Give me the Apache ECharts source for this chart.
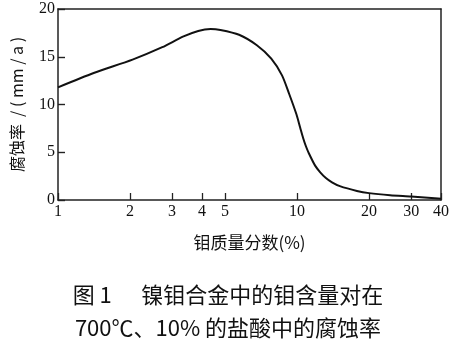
<!DOCTYPE html>
<html>
<head>
<meta charset="utf-8">
<script src="https://cdn.jsdelivr.net/npm/echarts@6/dist/echarts.min.js"></script>
<style>html,body{margin:0;padding:0;background:#fff;}#c{width:456px;height:347px;}</style>
</head>
<body>
<div id="c"></div>
<script>
var moContent = [1, 1.41, 2.05, 2.73, 3.33, 3.86, 4.35, 4.78, 5.72, 6.79, 7.8, 8.65, 9.27, 9.93, 10.3, 10.6, 10.9, 11.2, 11.9, 12.5, 13.2, 14.0, 15.1, 17.8, 20, 24.5, 30, 38.9, 40];
var corrosionRate = [11.8, 13.3, 14.7, 16.0, 17.1, 17.7, 17.9, 17.8, 17.3, 16.2, 14.8, 13.05, 11.1, 9.0, 7.6, 6.5, 5.6, 4.9, 3.6, 2.9, 2.3, 1.85, 1.45, 0.95, 0.72, 0.5, 0.36, 0.15, 0.12];
var xTicks = [1, 2, 3, 4, 5, 10, 20, 30, 40];
var yTicks = [0, 5, 10, 15, 20];
var xName = '钼质量分数(%)';
var yName = '腐蚀率  / ( mm / a )';
var captionLines = ['图 1      镍钼合金中的钼含量对在', '700℃、10% 的盐酸中的腐蚀率'];

var serif = '"Liberation Serif", "DejaVu Serif", serif';
var cjk = '"Noto Sans CJK SC", sans-serif';
var chart = echarts.init(document.getElementById('c'), null, {renderer: 'canvas'});
var pts = moContent.map(function (x, i) { return [x, corrosionRate[i]]; });
var lineC = '#222';
chart.setOption({
  animation: false,
  backgroundColor: '#fff',
  title: {
    text: captionLines.join('\n'),
    left: 'center',
    top: 273,
    textStyle: {fontFamily: cjk, fontSize: 22, fontWeight: 'normal', color: '#111', lineHeight: 33}
  },
  grid: {left: 58, right: 15, top: 9, bottom: 147},
  xAxis: [{
    type: 'log', logBase: 10, min: 1, max: 40,
    name: xName, nameLocation: 'middle', nameGap: 34,
    nameTextStyle: {fontFamily: cjk, fontSize: 17, color: '#111'},
    axisLine: {show: true, onZero: false, lineStyle: {color: lineC, width: 1.5}},
    axisTick: {show: true, inside: true, length: 7, customValues: xTicks, lineStyle: {color: lineC, width: 1.3}},
    axisLabel: {show: true, customValues: xTicks, formatter: function (v) { return String(Math.round(v)); }, fontFamily: serif, fontSize: 16, color: '#111', margin: 4},
    splitLine: {show: false}
  }, {
    type: 'log', logBase: 10, min: 1, max: 40, position: 'top',
    axisLine: {show: true, onZero: false, lineStyle: {color: lineC, width: 1.5}},
    axisTick: {show: false}, axisLabel: {show: false}, splitLine: {show: false}
  }],
  yAxis: [{
    type: 'value', min: 0, max: 20, interval: 5,
    name: yName, nameLocation: 'middle', nameGap: 33, nameRotate: 90,
    nameTextStyle: {fontFamily: cjk, fontSize: 16, color: '#111'},
    axisLine: {show: true, onZero: false, lineStyle: {color: lineC, width: 1.5}},
    axisTick: {show: true, inside: true, length: 7, customValues: yTicks, lineStyle: {color: lineC, width: 1.4}},
    axisLabel: {show: true, fontFamily: serif, fontSize: 16, color: '#111', margin: 3},
    splitLine: {show: false}
  }, {
    type: 'value', min: 0, max: 20, interval: 5, position: 'right',
    axisLine: {show: true, onZero: false, lineStyle: {color: lineC, width: 1.5}},
    axisTick: {show: false}, axisLabel: {show: false}, splitLine: {show: false}
  }],
  series: [{
    type: 'line',
    data: pts,
    smooth: 0.25,
    showSymbol: false,
    lineStyle: {color: '#111', width: 2}
  }]
});
</script>
</body>
</html>
